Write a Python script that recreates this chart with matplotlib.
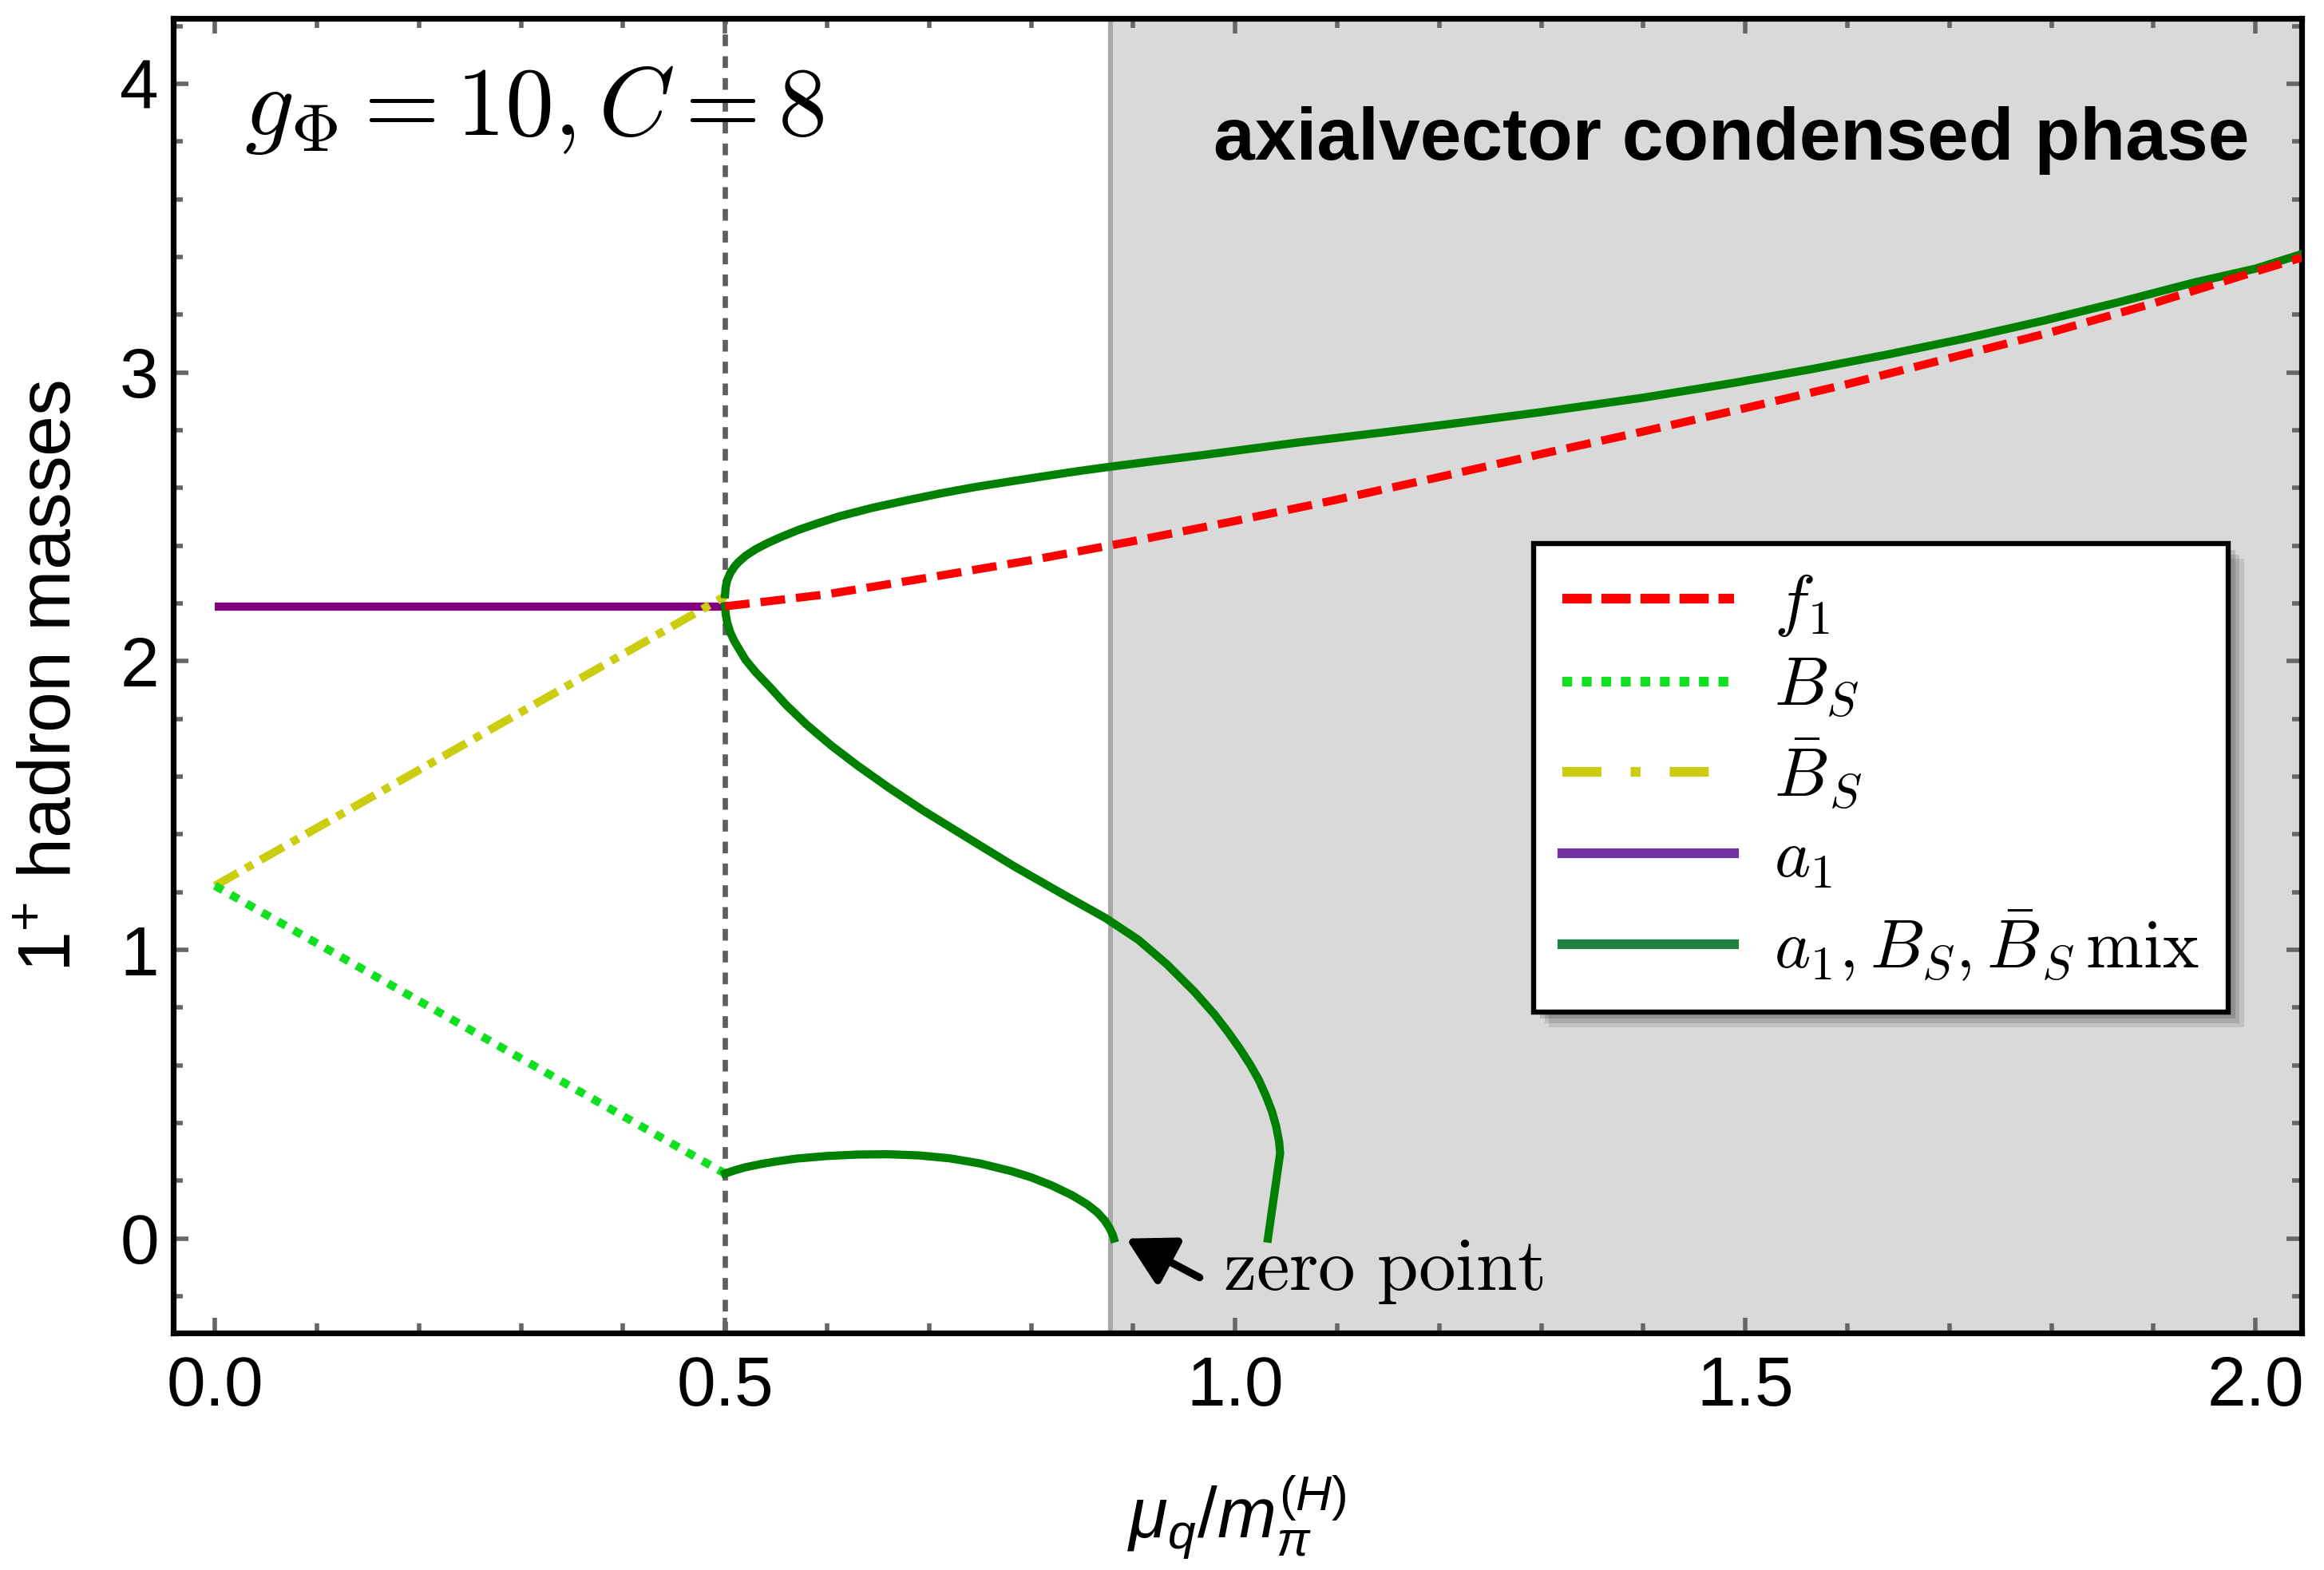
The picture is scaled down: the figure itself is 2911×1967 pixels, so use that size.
import matplotlib
matplotlib.use("Agg")
import matplotlib as mpl
from matplotlib import pyplot as plt
from matplotlib.lines import Line2D
from matplotlib import patheffects as pe

mpl.rcParams['font.family'] = ['Liberation Sans', 'DejaVu Sans']
mpl.rcParams['mathtext.fontset'] = 'cm'
mpl.rcParams['mathtext.rm'] = 'Liberation Sans'
mpl.rcParams['mathtext.it'] = 'Liberation Sans:italic'
mpl.rcParams['mathtext.bf'] = 'Liberation Sans:bold'

# ---- data ----
mu_a1 = [0.0, 0.5]
m_a1 = [2.19, 2.19]

mu_BS = [0.0, 0.5]
m_BS = [1.222, 0.225]

mu_BSbar = [0.0, 0.5]
m_BSbar = [1.222, 2.225]

mu_f1 = [0.5, 0.6, 0.7, 0.8, 0.9, 1.0, 1.1, 1.2, 1.3, 1.4, 1.5, 1.6, 1.7, 1.8, 1.9, 2.0, 2.045]
m_f1 = [2.19, 2.232, 2.29, 2.35, 2.416, 2.486, 2.56, 2.638, 2.718, 2.796, 2.877, 2.96, 3.05,
        3.14, 3.24, 3.35, 3.398]

# mixed a1 / B_S / Bbar_S branches
mu_mix_up = [0.5, 0.5005, 0.502, 0.505, 0.509, 0.513, 0.52, 0.53, 0.542, 0.556, 0.572, 0.59,
             0.612, 0.645, 0.679, 0.712, 0.746, 0.78, 0.813, 0.845, 0.878, 0.92, 0.97, 1.015,
             1.06, 1.11, 1.15, 1.22, 1.3, 1.4, 1.49, 1.565, 1.64, 1.715, 1.79, 1.865, 1.94,
             2.0, 2.045]
m_mix_up = [2.232, 2.255, 2.28, 2.305, 2.327, 2.343, 2.365, 2.388, 2.41, 2.432, 2.455, 2.477,
            2.502, 2.532, 2.558, 2.582, 2.604, 2.623, 2.641, 2.658, 2.674, 2.693, 2.715, 2.736,
            2.757, 2.778, 2.795, 2.826, 2.863, 2.913, 2.965, 3.012, 3.063, 3.118, 3.178, 3.243,
            3.312, 3.36, 3.41]

mu_mix_mid = [0.5, 0.5005, 0.502, 0.505, 0.509, 0.514, 0.52, 0.53, 0.544, 0.56, 0.58, 0.604,
              0.63, 0.66, 0.694, 0.74, 0.783, 0.83, 0.873, 0.905, 0.933, 0.96, 0.98, 0.993,
              1.005, 1.015, 1.023, 1.03, 1.036, 1.04, 1.043, 1.044, 1.032]
m_mix_mid = [2.19, 2.165, 2.135, 2.10, 2.07, 2.04, 2.005, 1.962, 1.91, 1.848, 1.78, 1.708,
             1.638, 1.563, 1.483, 1.383, 1.29, 1.195, 1.11, 1.035, 0.95, 0.855, 0.775, 0.715,
             0.655, 0.60, 0.55, 0.495, 0.44, 0.39, 0.335, 0.295, 0.0]

mu_mix_low = [0.5, 0.51, 0.52, 0.535, 0.55, 0.57, 0.6, 0.63, 0.66, 0.69, 0.72, 0.75, 0.78,
              0.80, 0.82, 0.84, 0.855, 0.865, 0.872, 0.877, 0.88, 0.881]
m_mix_low = [0.225, 0.237, 0.247, 0.258, 0.267, 0.277, 0.286, 0.291, 0.292, 0.288, 0.278,
             0.26, 0.234, 0.212, 0.184, 0.15, 0.118, 0.09, 0.063, 0.035, 0.012, 0.0]

mu_onset = 0.5        # dotted line
mu_condensed = 0.878  # start of axialvector condensed phase

xticks = [0.0, 0.5, 1.0, 1.5, 2.0]
yticks = [0, 1, 2, 3, 4]

# ---- figure ----
fig = plt.figure(figsize=(14.555, 9.835), dpi=200)
ax = fig.add_axes([0.0745, 0.151, 0.9158, 0.8373])
ax.set_xlim(-0.041, 2.045)
ax.set_ylim(-0.327, 4.227)

ax.axvspan(mu_condensed, 2.1, color='#d9d9d9', zorder=0, lw=0)
ax.axvline(mu_condensed, color='#a8a8a8', lw=2.2, zorder=1)
ax.axvline(mu_onset, color='#5f5f5f', lw=2.4, dashes=(2.2, 1.9), zorder=1)

lw = 3.7
ax.plot(mu_a1, m_a1, color='#800080', lw=lw, solid_capstyle='butt', zorder=3)
ax.plot(mu_BSbar, m_BSbar, color='#cccc10', lw=lw, dashes=(3.2, 1.1, 1.0, 1.1), zorder=3)
ax.plot(mu_BS, m_BS, color='#10e020', lw=lw, dashes=(1.1, 1.1), zorder=3)
ax.plot(mu_f1, m_f1, color='#ff0000', lw=lw, dashes=(3.0, 1.35), zorder=4)
for xs, ys in [(mu_mix_up, m_mix_up), (mu_mix_mid, m_mix_mid), (mu_mix_low, m_mix_low)]:
    ax.plot(xs, ys, color='#008000', lw=lw, zorder=3)

# ---- axes style ----
for s in ax.spines.values():
    s.set_linewidth(2.6)
    s.set_color('black')
ax.set_xticks(xticks)
ax.set_xticklabels(['0.0', '0.5', '1.0', '1.5', '2.0'])
ax.set_yticks(yticks)
ax.xaxis.set_minor_locator(mpl.ticker.MultipleLocator(0.1))
ax.yaxis.set_minor_locator(mpl.ticker.MultipleLocator(0.2))
ax.tick_params(which='both', direction='in', top=True, right=True, color='#666666', width=2.0,
               labelsize=31.5)
ax.tick_params(which='major', length=7)
ax.tick_params(which='minor', length=4.3)
ax.tick_params(axis='x', pad=10)
ax.tick_params(axis='y', pad=6.5)

ax.set_xlabel(r'$\mathit{\mu_q/m_\pi^{(H)}}$', fontsize=32, math_fontfamily='custom')
ax.xaxis.label.set_verticalalignment('baseline')
ax.xaxis.set_label_coords(0.5, -0.156)
ax.set_ylabel(r'$1^{+}$ hadron masses', fontsize=33, math_fontfamily='custom')
ax.yaxis.label.set_verticalalignment('baseline')
ax.yaxis.set_label_coords(-0.0484, 0.5)

# ---- annotations ----
ax.text(0.0334, 0.93, r'$g_\Phi = 10, C = 8$', transform=ax.transAxes, fontsize=44,
        ha='left', va='center')
ax.text(0.9756, 0.8923, 'axialvector condensed phase', transform=ax.transAxes, fontsize=33.5,
        fontweight='bold', ha='right', va='baseline')
ax.annotate('', xy=(0.893, 0.0), xytext=(0.965, -0.135),
            arrowprops=dict(arrowstyle='-|>,head_length=0.45,head_width=0.25', color='black',
                            lw=3.4, mutation_scale=40, shrinkA=0, shrinkB=0))
ax.text(0.988, -0.114, r'$\mathrm{zero\ point}$', fontsize=33.5, ha='left', va='center')

# ---- legend ----
handles = [
    Line2D([], [], color='#ff0000', lw=4.4, dashes=(3.0, 1.0)),
    Line2D([], [], color='#10e020', lw=4.4, dashes=(1.0, 1.0)),
    Line2D([], [], color='#cccc10', lw=4.4, dashes=(4.0, 3.0, 1.0, 3.0)),
    Line2D([], [], color='#7030a0', lw=4.4),
    Line2D([], [], color='#208040', lw=4.4),
]
labels = [r'$f_1$', r'$B_S$', r'$\bar{B}_S$', r'$a_1$', r'$a_1, B_S, \bar{B}_S\,\mathrm{mix}$']
leg = ax.legend(handles, labels, loc='upper left', bbox_to_anchor=(1921 / 2911, 1 - 681 / 1967),
                bbox_transform=fig.transFigure, fontsize=31, handlelength=2.5, handletextpad=0.58,
                borderpad=0.42, labelspacing=0.25, borderaxespad=0, fancybox=False,
                framealpha=1, edgecolor='black')
frame = leg.get_frame()
frame.set_linewidth(2.3)
frame.set_path_effects([
    pe.SimplePatchShadow(offset=(7, -7), shadow_rgbFace='black', alpha=0.10),
    pe.SimplePatchShadow(offset=(5, -5), shadow_rgbFace='black', alpha=0.12),
    pe.SimplePatchShadow(offset=(3, -3), shadow_rgbFace='black', alpha=0.15),
    pe.Normal()])
leg.set_zorder(6)

fig.savefig('out.png', dpi=200)
